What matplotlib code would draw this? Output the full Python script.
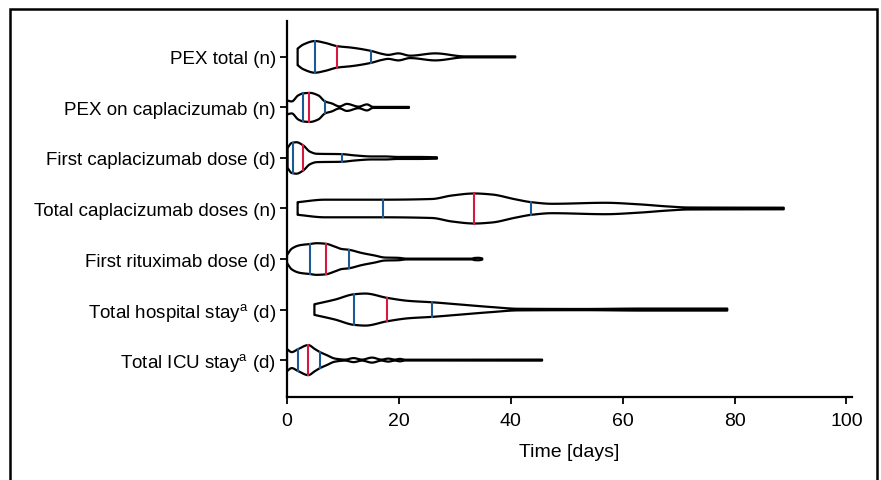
import numpy as np
import matplotlib.pyplot as plt
from matplotlib.patches import Rectangle

plt.rcParams["font.family"] = ["Liberation Sans", "DejaVu Sans"]
plt.rcParams["mathtext.fontset"] = "custom"
plt.rcParams["mathtext.rm"] = "Liberation Sans"

labels = [
    "PEX total (n)",
    "PEX on caplacizumab (n)",
    "First caplacizumab dose (d)",
    "Total caplacizumab doses (n)",
    "First rituximab dose (d)",
    r"Total hospital stay$^{\mathrm{a}}$ (d)",
    r"Total ICU stay$^{\mathrm{a}}$ (d)",
]

q1 = [5.0, 2.9, 1.0, 17.2, 4.1, 12.0, 2.0]
median = [9.0, 3.9, 2.9, 33.5, 6.9, 17.9, 3.8]
q3 = [15.0, 6.8, 9.8, 43.7, 11.0, 25.9, 5.9]

# violin outlines: time (days) and half width (px, 50.5 px per row)
pex_total_t = [1.9, 2.9, 5.0, 6.8, 9.0, 11.6, 15.0, 17.0, 18.1, 19.9, 22.0, 26.5, 31.8, 40.8]
pex_total_w = [8.3, 12.3, 15.8, 14.0, 10.7, 9.2, 6.0, 3.0, 2.0, 3.5, 1.2, 3.5, 0.5, 0.5]

pex_capla_t = [0.0, 0.84, 2.0, 2.9, 4.1, 5.6, 6.8, 8.0, 9.4, 10.7, 12.8, 14.3, 15.4, 21.8]
pex_capla_w = [7.0, 6.0, 12.0, 14.0, 14.5, 12.0, 6.0, 4.0, 1.0, 3.5, 0.8, 3.0, 0.5, 0.5]

first_capla_t = [0.1, 0.84, 1.7, 2.9, 4.1, 5.3, 9.8, 12.2, 15.2, 17.5, 19.9, 23.5, 26.8]
first_capla_w = [10.0, 15.0, 15.7, 12.5, 6.3, 4.2, 3.8, 2.5, 1.5, 1.5, 1.0, 1.0, 0.7]

total_capla_t = [1.9, 6.8, 17.2, 25.9, 29.5, 33.5, 36.6, 40.8, 43.7, 47.4, 56.9, 62.8, 68.2, 71.8, 88.8]
total_capla_w = [6.3, 8.8, 8.8, 9.5, 13.0, 15.0, 14.0, 9.2, 6.3, 4.7, 5.7, 4.2, 2.0, 1.0, 0.8]

ritux_t = [0.0, 0.84, 2.3, 4.1, 5.3, 6.9, 8.6, 9.8, 11.0, 13.4, 15.7, 17.5, 19.9, 21.4, 33.0, 33.6, 34.3, 34.9]
ritux_w = [4.0, 10.3, 13.8, 15.0, 15.8, 15.3, 12.3, 10.0, 9.3, 6.0, 3.5, 1.5, 1.2, 0.4, 0.4, 1.1, 1.2, 0.6]

hospital_t = [4.9, 8.6, 12.0, 14.0, 17.9, 21.7, 25.9, 30.6, 36.6, 41.4, 53.3, 63.5, 78.7]
hospital_w = [5.3, 10.0, 15.3, 16.0, 11.7, 8.7, 7.3, 5.2, 2.5, 0.8, 0.6, 1.0, 1.0]

icu_t = [0.0, 0.84, 2.0, 3.8, 5.0, 5.9, 7.1, 8.6, 10.4, 11.9, 13.4, 15.2, 16.9, 18.1, 19.3, 20.2, 21.1, 45.6]
icu_w = [11.0, 8.0, 11.0, 15.0, 11.0, 8.0, 5.0, 1.5, 0.5, 2.0, 0.5, 2.5, 0.5, 1.5, 0.5, 1.2, 0.4, 0.5]

outlines_t = [pex_total_t, pex_capla_t, first_capla_t, total_capla_t, ritux_t, hospital_t, icu_t]
outlines_w = [pex_total_w, pex_capla_w, first_capla_w, total_capla_w, ritux_w, hospital_w, icu_w]

ROW_PX = 50.5
BLUE = "#1b5a97"
RED = "#d41b3f"


def smooth_curve(x, y, xs):
    """Monotone cubic (Fritsch-Carlson) through the read-off points, for drawing."""
    x = np.asarray(x, float)
    y = np.asarray(y, float)
    h = np.diff(x)
    d = np.diff(y) / h
    m = np.zeros_like(y)
    for k in range(1, len(y) - 1):
        if d[k - 1] * d[k] > 0:
            w1 = 2 * h[k] + h[k - 1]
            w2 = h[k] + 2 * h[k - 1]
            m[k] = (w1 + w2) / (w1 / d[k - 1] + w2 / d[k])
    m[0] = d[0]
    m[-1] = d[-1]
    idx = np.clip(np.searchsorted(x, xs) - 1, 0, len(h) - 1)
    t = (xs - x[idx]) / h[idx]
    h00 = 2 * t**3 - 3 * t**2 + 1
    h10 = t**3 - 2 * t**2 + t
    h01 = -2 * t**3 + 3 * t**2
    h11 = t**3 - t**2
    return h00 * y[idx] + h10 * h[idx] * m[idx] + h01 * y[idx + 1] + h11 * h[idx] * m[idx + 1]


fig = plt.figure(figsize=(8.81, 4.81), dpi=100)
ax = fig.add_axes([287 / 881, 1 - 398 / 481, 565 / 881, 376 / 481])

for i, (ts, ws) in enumerate(zip(outlines_t, outlines_w)):
    xs = np.linspace(ts[0], ts[-1], 600)
    half = np.clip(smooth_curve(ts, ws, xs), 0.3, None) / ROW_PX
    ax.fill(np.r_[xs, xs[::-1]], np.r_[i - half, (i + half)[::-1]],
            facecolor="white", edgecolor="black", lw=1.6, joinstyle="round", zorder=2)
    for q, c in ((q1[i], BLUE), (median[i], RED), (q3[i], BLUE)):
        hq = smooth_curve(ts, ws, np.array([q]))[0] / ROW_PX
        ax.plot([q, q], [i - hq, i + hq], color=c, lw=1.5, zorder=3)

ax.set_xlim(0, 101)
ax.set_ylim(6.73, -0.71)
ax.set_yticks(range(len(labels)))
ax.set_yticklabels(labels, fontsize=13.5)
ax.set_xticks([0, 20, 40, 60, 80, 100])
ax.tick_params(axis="x", labelsize=14, length=5, width=1.3, pad=6)
ax.tick_params(axis="y", length=5, width=1.3, pad=3)
for side in ("top", "right"):
    ax.spines[side].set_visible(False)
for side in ("left", "bottom"):
    ax.spines[side].set_linewidth(1.6)
ax.set_xlabel("Time [days]", fontsize=14,
              family=["Liberation Sans Narrow", "Liberation Sans"], labelpad=10)

fig.patches.append(Rectangle((10 / 881, -0.1), 867 / 881, 1.1 - 10 / 481,
                             transform=fig.transFigure, fill=False,
                             edgecolor="black", lw=1.8))

fig.savefig("out.png", dpi=100)
